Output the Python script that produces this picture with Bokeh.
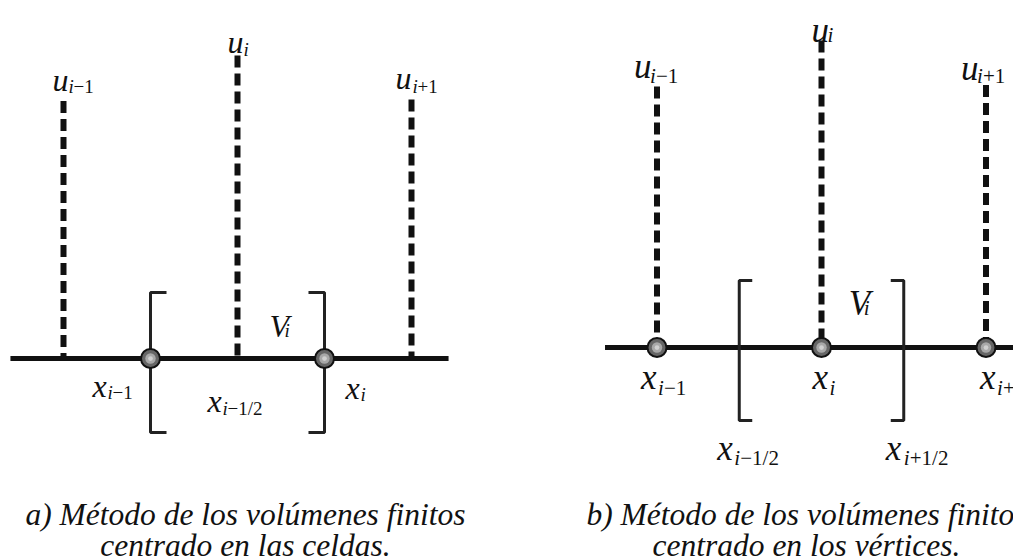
from bokeh.plotting import figure
from bokeh.models import Range1d, Label, ColumnDataSource
from bokeh.embed import file_html
from bokeh.resources import INLINE
from bokeh.core.properties import value

# ---- panel a: cell-centred finite volumes ----
a_nodes = [-1.0, 0.0, 1.0]        # positions of u_{i-1}, u_i, u_{i+1}
a_u = [0.85, 1.0, 0.855]          # relative nodal values
a_faces = [-0.5, 0.5]             # cell faces (marked points)
a_axis = [-1.305, 1.213]          # extent of the 1-D domain line
a_bracket = [0.218, -0.244]       # top / bottom of the control-volume brackets

# ---- panel b: vertex-centred finite volumes ----
b_nodes = [-1.0, 0.0, 1.0]
b_u = [0.85, 1.0, 0.855]
b_faces = [-0.5, 0.5]
b_axis = [-1.316, 1.3]
b_bracket = [0.218, -0.238]

captions_a = ["a) Método de los volúmenes finitos", "centrado en las celdas."]
captions_b = ["b) Método de los volúmenes finitos", "centrado en los vértices."]

FONT_NAME = "Liberation Serif"
FONT = value(FONT_NAME)
INK = "#111111"

W, H = 1013, 560

# one canvas; panel a uses the default ranges, panel b its own named ranges
p = figure(width=W, height=H, output_backend="svg", toolbar_location=None, min_border=0,
           x_range=Range1d(-237 / 174, (W - 237) / 174),
           y_range=Range1d(-(H - 358) / 303, 358 / 303))
p.extra_x_ranges = {"b": Range1d(-821 / 164.5, (W - 821) / 164.5)}
p.extra_y_ranges = {"b": Range1d(-(H - 347) / 307, 347 / 307)}
p.axis.visible = False
p.grid.visible = False
p.outline_line_color = None
p.background_fill_color = "white"
p.border_fill_color = "white"


def rng(panel):
    return {} if panel == "a" else dict(x_range_name="b", y_range_name="b")


def draw_labels(labels, size, sub_size, i_adv, panel):
    base = dict(x=[], y=[], text=[], xo=[], yo=[])
    sub_i = dict(x=[], y=[], text=[], xo=[], yo=[])
    sub_r = dict(x=[], y=[], text=[], xo=[], yo=[])
    for (b, rest, ax, ay, dx, dy, sdx, sdy) in labels:
        base["x"].append(ax); base["y"].append(ay); base["text"].append(b)
        base["xo"].append(dx); base["yo"].append(dy)
        sub_i["x"].append(ax); sub_i["y"].append(ay); sub_i["text"].append("i")
        sub_i["xo"].append(sdx); sub_i["yo"].append(sdy)
        if rest:
            sub_r["x"].append(ax); sub_r["y"].append(ay); sub_r["text"].append(rest)
            sub_r["xo"].append(sdx + i_adv); sub_r["yo"].append(sdy)
    common = dict(x="x", y="y", text="text", x_offset="xo", y_offset="yo",
                  text_font=FONT, text_baseline="alphabetic", text_align="left",
                  text_color=INK, **rng(panel))
    p.text(source=ColumnDataSource(base), text_font_size=f"{size}px",
           text_font_style="italic", **common)
    p.text(source=ColumnDataSource(sub_i), text_font_size=f"{sub_size}px",
           text_font_style="italic", **common)
    p.text(source=ColumnDataSource(sub_r), text_font_size=f"{sub_size}px",
           text_font_style="normal", **common)


def draw_brackets(faces, ext, tick, panel):
    top, bot = ext
    xl, xr = faces
    xs = [[xl + tick, xl, xl, xl + tick], [xr - tick, xr, xr, xr - tick]]
    ys = [[top, top, bot, bot], [top, top, bot, bot]]
    p.multi_line(xs, ys, line_color="#222222", line_width=3, **rng(panel))


def draw_stems(nodes, u, axis, panel):
    p.segment(x0=nodes, y0=u, x1=nodes, y1=[0] * len(nodes), line_color=INK,
              line_width=6, line_dash="12 6", line_cap="butt", **rng(panel))
    p.segment(x0=[axis[0]], y0=[0], x1=[axis[1]], y1=[0], line_color=INK,
              line_width=5, **rng(panel))


def draw_points(xs, size, panel):
    ys = [0] * len(xs)
    p.scatter(xs, ys, size=size, fill_color="#666666", line_color="#111111",
              line_width=2, **rng(panel))
    p.scatter(xs, ys, size=size * 0.55, fill_color="#a8a8a8", line_color=None, **rng(panel))
    p.scatter(xs, ys, size=size * 0.25, fill_color="#d0d0d0", line_color=None, **rng(panel))


def captions(lines, cx):
    for txt, y in zip(lines, [46, 15]):
        p.add_layout(Label(x=cx, y=y, x_units="screen", y_units="screen", text=txt,
                           text_font=FONT_NAME, text_font_style="italic",
                           text_font_size="31.5px", text_align="center",
                           text_baseline="alphabetic", text_color=INK))


# ---------------- panel a ----------------
draw_stems(a_nodes, a_u, a_axis, "a")
draw_brackets(a_faces, a_bracket, 0.092, "a")
draw_points(a_faces, 19, "a")
labels_a = [
    ("u", "−1", a_nodes[0], a_u[0], -11, -21, 5, -14),
    ("u", "", a_nodes[1], a_u[1], -10, -14, 6, -6),
    ("u", "+1", a_nodes[2], a_u[2], -16, -21, 1, -13),
    ("x", "−1", a_faces[0], 0, -58, 27, -43, 34),
    ("x", "−1/2", a_nodes[1], 0, -30, 42, -15, 50),
    ("x", "", a_faces[1], 0, 21, 29, 36, 36),
    ("V", "", a_faces[1], 0, -55, -33, -40, -28),
]
draw_labels(labels_a, 32, 19, 5, "a")
captions(captions_a, 245)

# ---------------- panel b ----------------
draw_stems(b_nodes, b_u, b_axis, "b")
draw_brackets(b_faces, b_bracket, 0.079, "b")
draw_points(b_nodes, 19, "b")
labels_b = [
    ("u", "−1", b_nodes[0], b_u[0], -23, -20, -7, -11),
    ("u", "", b_nodes[1], b_u[1], -10, -10, 6, -6),
    ("u", "+1", b_nodes[2], b_u[2], -25, -17, -9, -9),
    ("x", "−1", b_nodes[0], 0, -16, 30, 1, 40),
    ("x", "", b_nodes[1], 0, -9, 30, 8, 40),
    ("x", "+1", b_nodes[2], 0, -6, 30, 11, 40),
    ("x", "−1/2", b_faces[0], 0, -22, 101, -5, 110),
    ("x", "+1/2", b_faces[1], 0, -18, 101, 0, 110),
    ("V", "", b_faces[1], 0, -55, -44, -40, -40),
]
draw_labels(labels_b, 35, 21, 6, "b")
captions(captions_b, 806)

open("out.html", "w").write(file_html(p, INLINE))
